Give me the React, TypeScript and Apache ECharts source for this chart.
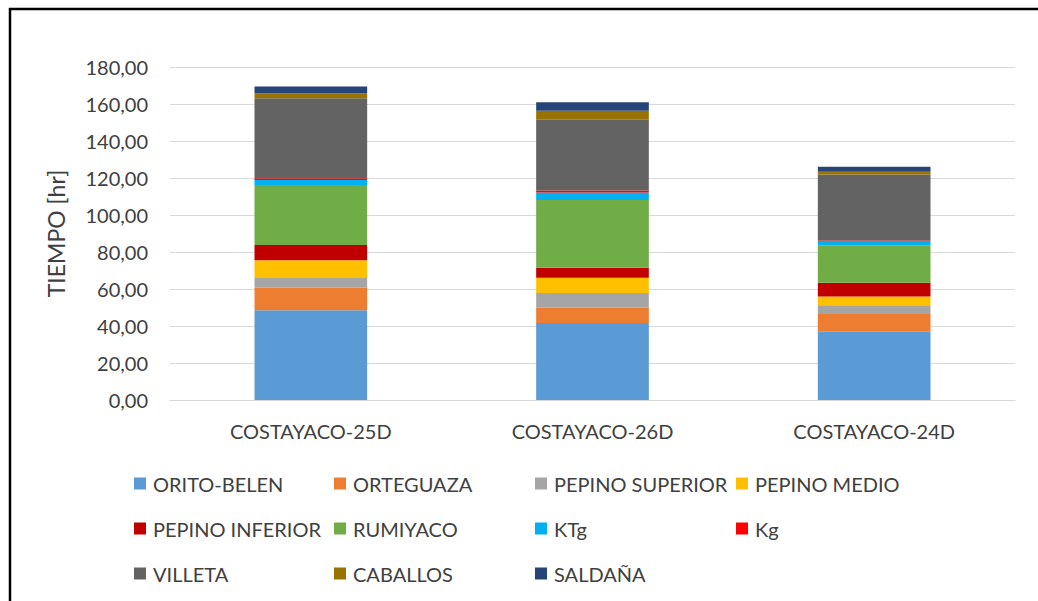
import React, { useEffect, useRef } from "react";
import * as echarts from "echarts";

const categories = ["COSTAYACO-25D", "COSTAYACO-26D", "COSTAYACO-24D"];
const seriesNames = [
  "ORITO-BELEN",
  "ORTEGUAZA",
  "PEPINO SUPERIOR",
  "PEPINO MEDIO",
  "PEPINO INFERIOR",
  "RUMIYACO",
  "KTg",
  "Kg",
  "VILLETA",
  "CABALLOS",
  "SALDAÑA",
];
const oritoBelen = [48.5, 41.6, 36.9];
const orteguaza = [12.2, 8.3, 9.6];
const pepinoSuperior = [5.2, 7.9, 4.7];
const pepinoMedio = [9.6, 8.3, 4.8];
const pepinoInferior = [8.3, 5.4, 7.4];
const rumiyaco = [32.4, 36.6, 20.2];
const ktg = [2.7, 4.0, 2.3];
const kg = [0.9, 1.1, 0.3];
const villeta = [43.3, 38.3, 35.7];
const caballos = [2.7, 4.9, 1.5];
const saldana = [3.6, 4.5, 2.7];
const seriesValues = [
  oritoBelen,
  orteguaza,
  pepinoSuperior,
  pepinoMedio,
  pepinoInferior,
  rumiyaco,
  ktg,
  kg,
  villeta,
  caballos,
  saldana,
];
const colors = [
  "#5B9BD5",
  "#ED7D31",
  "#A5A5A5",
  "#FFC000",
  "#C00000",
  "#70AD47",
  "#00B0F0",
  "#FF0000",
  "#636363",
  "#997300",
  "#264478",
];
const legendColumns = [
  ["ORITO-BELEN", "PEPINO INFERIOR", "VILLETA"],
  ["ORTEGUAZA", "RUMIYACO", "CABALLOS"],
  ["PEPINO SUPERIOR", "KTg", "SALDAÑA"],
  ["PEPINO MEDIO", "Kg"],
];
const legendLefts = [134, 334, 535, 736];

const FONT = "Lato, 'Open Sans', sans-serif";
const TEXT = "#404040";

export default function App() {
  const ref = useRef<HTMLDivElement>(null);
  useEffect(() => {
    document.body.style.margin = "0";
    if (!ref.current) return;
    const chart = echarts.init(ref.current, undefined, { renderer: "svg" });
    chart.setOption({
      animation: false,
      backgroundColor: "#ffffff",
      color: colors,
      textStyle: { fontFamily: FONT },
      grid: { left: 170, right: 23, top: 67, bottom: 201, containLabel: false },
      xAxis: {
        type: "category",
        data: categories,
        axisLine: { show: true, lineStyle: { color: "#D9D9D9", width: 1 } },
        axisTick: { show: false },
        axisLabel: { color: TEXT, fontSize: 20, fontFamily: FONT, margin: 21 },
      },
      yAxis: {
        type: "value",
        min: 0,
        max: 180,
        interval: 20,
        name: "TIEMPO [hr]",
        nameLocation: "middle",
        nameGap: 103,
        nameRotate: 90,
        nameTextStyle: { color: TEXT, fontSize: 23, fontFamily: FONT },
        axisLine: { show: false },
        axisTick: { show: false },
        splitLine: { lineStyle: { color: "#D9D9D9", width: 1 } },
        axisLabel: {
          color: TEXT,
          fontSize: 20,
          fontFamily: FONT,
          margin: 22,
          formatter: (v: number) => v.toFixed(2).replace(".", ","),
        },
      },
      legend: legendColumns.map((col, i) => ({
        data: col,
        orient: "vertical",
        left: legendLefts[i],
        top: 472,
        padding: 0,
        itemWidth: 12,
        itemHeight: 12,
        itemGap: 22,
        icon: "rect",
        selectedMode: false,
        textStyle: { color: TEXT, fontSize: 20, fontFamily: FONT, lineHeight: 23, padding: [0, 0, 0, 2] },
      })),
      graphic: [
        {
          type: "rect",
          shape: { x: 10, y: 9, width: 1100, height: 700 },
          style: { fill: "none", stroke: "#000000", lineWidth: 2.5 },
          silent: true,
        },
      ],
      series: seriesNames.map((name, i) => ({
        name,
        type: "bar",
        stack: "total",
        barWidth: "40%",
        data: seriesValues[i],
        itemStyle: { color: colors[i] },
        emphasis: { disabled: true },
      })),
    });
    return () => chart.dispose();
  }, []);
  return <div ref={ref} style={{ width: 1038, height: 601 }} />;
}
